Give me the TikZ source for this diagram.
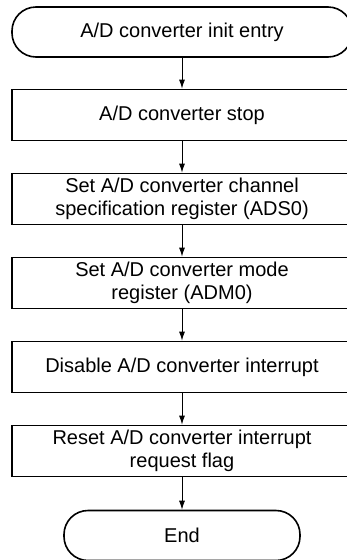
\documentclass[tikz,border=0pt]{standalone}
\usepackage{fontspec}
\setmainfont{Liberation Sans}
\usepackage{tikz}
\usetikzlibrary{arrows.meta}

\begin{document}
\begin{tikzpicture}[x=1pt,y=-1pt,
    every node/.style={font=\fontsize{20}{23}\selectfont,align=center,inner sep=0pt},
    procbox/.style={draw,line width=1.8pt,minimum width=340pt,minimum height=51pt},
    termbox/.style={draw,line width=1.6pt,rounded corners=24pt,minimum height=50pt},
    flow/.style={-{Latex[length=9pt,width=6pt]},line width=0.9pt}]
    \useasboundingbox (0,0) rectangle (347,560);
    \clip (0,0) rectangle (347,560);
    % -------------------------
    % Start
    % -------------------------
    \node[termbox,minimum width=340pt] (init) at (182, 32) {A/D converter init entry};

    % -------------------------
    % Steps
    % -------------------------
    \node[procbox] (stop) at (182, 115) {A/D converter stop};
    \node[procbox] (ads) at (182, 199) {Set A/D converter channel\\specification register (ADS0)};
    \node[procbox] (adm) at (182, 283) {Set A/D converter mode\\register (ADM0)};
    \node[procbox] (intoff) at (182, 367) {Disable A/D converter interrupt};
    \node[procbox] (flag) at (182, 451) {Reset A/D converter interrupt\\request flag};

    % -------------------------
    % End
    % -------------------------
    \node[termbox,minimum width=236pt] (end) at (182, 535.5) {End};

    % arrows down the chain
    \draw[flow] (init) -- (stop);
    \draw[flow] (stop) -- (ads);
    \draw[flow] (ads) -- (adm);
    \draw[flow] (adm) -- (intoff);
    \draw[flow] (intoff) -- (flag);
    \draw[flow] (flag) -- (end);

\end{tikzpicture}
\end{document}
